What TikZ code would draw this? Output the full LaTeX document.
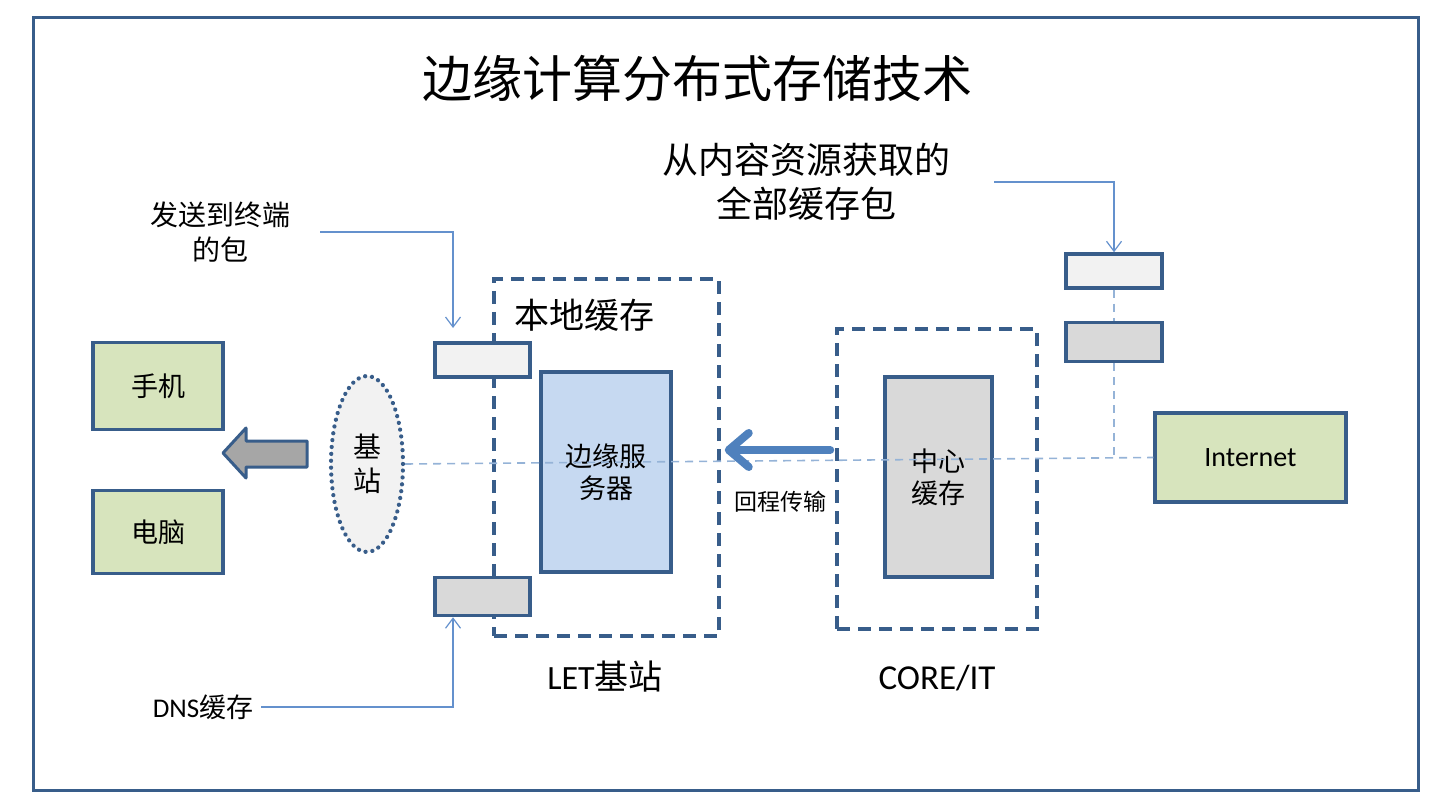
\documentclass[tikz,border=0pt]{standalone}
\usepackage{fontspec}
\setmainfont{Carlito}
\newfontfamily\cjk{Noto Sans CJK SC}
\usetikzlibrary{arrows.meta}
\usetikzlibrary{shapes.geometric}
\definecolor{edgeblue}{RGB}{56,93,138}
\definecolor{greenfill}{RGB}{215,228,189}
\definecolor{lightfill}{RGB}{242,242,242}
\definecolor{grayfill}{RGB}{217,217,217}
\definecolor{serverfill}{RGB}{198,217,241}
\definecolor{haulblue}{RGB}{79,129,189}
\definecolor{thinblue}{RGB}{100,145,205}
\definecolor{dashblue}{RGB}{149,179,215}

\begin{document}
\begin{tikzpicture}[x=1pt, y=-1pt,
  box/.style={draw=edgeblue, line width=3.5pt, inner sep=0pt, align=center,
    font=\cjk\fontsize{27}{32}\selectfont},
  dashbox/.style={draw=edgeblue, line width=3.5pt, dash pattern=on 13pt off 8pt, inner sep=0pt},
  pointer/.style={draw=thinblue, line width=1.2pt, -{Straight Barb[length=10pt,width=15pt]}},
  link/.style={draw=dashblue, line width=1.6pt, dash pattern=on 8pt off 6pt},
  backhaul/.style={draw=haulblue, line width=8pt, line cap=round,
    -{Straight Barb[length=20pt,width=34pt,line cap=round,round]}},
  label/.style={align=center, inner sep=0pt}]
  \useasboundingbox (0,0) rectangle (1440,810);
  \draw[edgeblue, line width=3pt] (33,18) rectangle (1418,790);

  \node[label, font=\cjk\fontsize{50}{56}\selectfont] (title) at (697,78) {边缘计算分布式存储技术};
  \node[label, font=\cjk\fontsize{36}{44}\selectfont] (fetch) at (806,182) {从内容资源获取的\\全部缓存包};
  \node[label, font=\cjk\fontsize{28}{35}\selectfont] (send) at (220,232) {发送到终端\\的包};
  \node[label, font=\fontsize{27}{32}\selectfont] (dns) at (203,707) {DNS{\cjk 缓存}};

  \node[box, fill=greenfill, minimum width=130pt, minimum height=87pt] (phone) at (158,386) {手机};
  \node[box, fill=greenfill, minimum width=130pt, minimum height=83pt] (pc) at (158,532) {电脑};
  \draw[edgeblue, line width=3pt, fill=black!35, line join=round]
    (307,441) -- (246,441) -- (246,428) -- (223,453) -- (246,478) -- (246,467) -- (307,467) -- cycle;
  \node[ellipse, draw=edgeblue, fill=lightfill, line width=4.2pt, line cap=round,
    dash pattern=on 0.1pt off 6.8pt, minimum width=72pt, minimum height=176pt, inner sep=0pt,
    align=center, font=\cjk\fontsize{28}{34}\selectfont] (bs) at (367,464) {基\\站};

  \node[dashbox, minimum width=225pt, minimum height=357pt] (lc) at (606.5,457.5) {};
  \node[label, font=\cjk\fontsize{35}{40}\selectfont] (lclbl) at (584,315) {本地缓存};
  \node[box, fill=lightfill, minimum width=95pt, minimum height=34pt] (lctop) at (482.5,360) {};
  \node[box, fill=grayfill, minimum width=95pt, minimum height=38pt] (lcbot) at (482.5,596.5) {};
  \node[box, fill=serverfill, minimum width=130pt, minimum height=200pt] (server) at (606,472) {边缘服\\务器};
  \node[label, font=\fontsize{34}{40}\selectfont] (let) at (605,677) {LET{\cjk 基站}};

  \node[dashbox, minimum width=200pt, minimum height=300pt] (core) at (937,479) {};
  \node[box, fill=grayfill, minimum width=107pt, minimum height=200pt] (center) at (938.5,477) {中心\\缓存};
  \node[label, font=\fontsize{35}{40}\selectfont] (corelbl) at (937,678) {CORE/IT};

  \node[box, fill=lightfill, minimum width=96pt, minimum height=34pt] (r1) at (1114,271) {};
  \node[box, fill=grayfill, minimum width=96pt, minimum height=39pt] (r2) at (1114,342) {};
  \node[box, fill=greenfill, minimum width=191pt, minimum height=89pt,
    font=\fontsize{28}{32}\selectfont] (inet) at (1250.5,457.5) {Internet};

  \coordinate (sendtip) at (453,328);
  \coordinate (haul) at (780,450);
  \draw[pointer] ([xshift=30pt]send.east) -| (sendtip);
  \draw[pointer] ([xshift=8pt]dns.east) -| (sendtip |- lcbot.south);
  \draw[pointer] ([xshift=44pt]fetch.east) -| (r1.north);

  \draw[link] (bs.east) -- (inet.west);
  \draw[link, line width=1.2pt] (r1.south) -- (r2.north);
  \draw[link, line width=1.2pt] (r2.south) -- (r2.south |- inet.west);

  \draw[backhaul] ([xshift=-5pt]core.west |- haul) -- ([xshift=4pt]lc.east |- haul);
  \node[label, font=\cjk\fontsize{23}{28}\selectfont] (haullbl) at (780,502) {回程传输};
\end{tikzpicture}
\end{document}
